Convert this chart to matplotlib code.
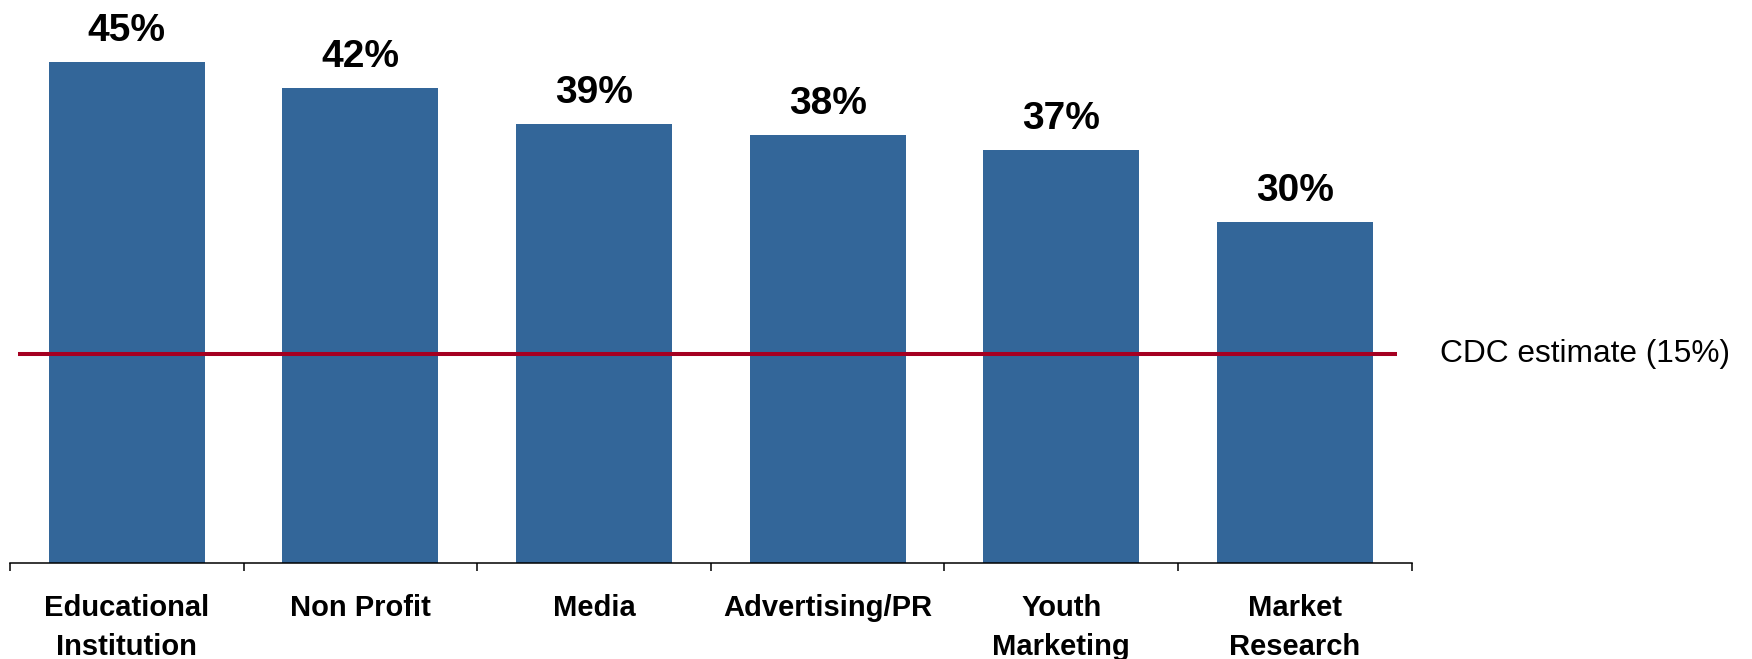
import matplotlib
matplotlib.use("Agg")
import matplotlib.pyplot as plt
import matplotlib.transforms as mtransforms

# Datos
categorias = ["Educational\nInstitution", "Non Profit", "Media",
              "Advertising/PR", "Youth\nMarketing", "Market\nResearch"]
alturas = [44.5, 42.2, 39.0, 38.0, 36.7, 30.3]
etiquetas = ["45%", "42%", "39%", "38%", "37%", "30%"]
cdc_texto = "CDC estimate (15%)"
cdc_nivel = 18.6  # posición visual de la línea en el original

plt.rcParams["font.family"] = ["Liberation Sans", "DejaVu Sans"]

fig = plt.figure(figsize=(17.52, 6.59), dpi=100)
ax = fig.add_axes([10 / 1752, 96 / 659, 1401.7 / 1752, 563 / 659])

x = range(len(categorias))
ax.bar(x, alturas, width=0.668, color="#336699", zorder=2)

for xi, h, txt in zip(x, alturas, etiquetas):
    ax.annotate(txt, (xi, h), xytext=(0, 15), textcoords="offset points",
                ha="center", va="baseline", fontsize=28, fontweight="bold")

ax.hlines(cdc_nivel, -0.466, 5.438, color="#A50021", linewidth=2.9, zorder=3)
trans = mtransforms.blended_transform_factory(fig.transFigure, ax.transData)
ax.text(1440 / 1752, cdc_nivel, cdc_texto, transform=trans, va="center",
        ha="left", fontsize=22.8)

ax.set_xlim(-0.5, len(categorias) - 0.5)
ax.set_ylim(0, 50)
ax.set_yticks([])
for lado in ["left", "right", "top"]:
    ax.spines[lado].set_visible(False)
ax.spines["bottom"].set_linewidth(1.1)

ax.set_xticks(list(x))
ax.set_xticklabels(categorias, fontsize=21, fontweight="bold", linespacing=1.5)
ax.set_xticks([i - 0.5 for i in range(len(categorias) + 1)], minor=True)
ax.tick_params(axis="x", which="major", length=0, pad=22)
ax.tick_params(axis="x", which="minor", length=6, width=1.1, direction="out")

fig.savefig("out.png", dpi=100)
